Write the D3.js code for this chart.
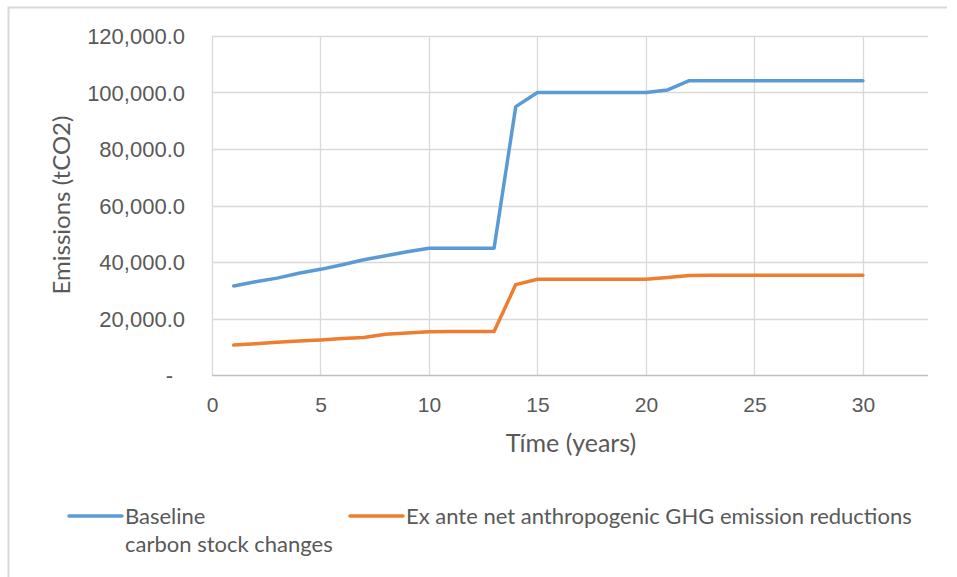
<!DOCTYPE html>
<html>
<head>
<meta charset="utf-8">
<script src="https://cdn.jsdelivr.net/npm/d3@7"></script>
<style>
  html, body { margin: 0; padding: 0; background: #fff; }
  svg { display: block; font-family: Lato, "Open Sans", sans-serif; }
</style>
</head>
<body>
<svg id="chart" width="957" height="577"></svg>
<script>
// Years of the crediting period
const years = d3.range(1, 31);

// Baseline carbon stock changes (tCO2)
const baseline = [
  31500, 33000, 34300, 36000, 37400, 39000, 40800, 42200, 43600, 44900,
  44900, 44900, 44900, 95000, 100000, 100000, 100000, 100000, 100000, 100000,
  100900, 104200, 104200, 104200, 104200, 104200, 104200, 104200, 104200, 104200
];

// Ex ante net anthropogenic GHG emission reductions (tCO2)
const reductions = [
  10600, 11100, 11600, 12000, 12400, 12900, 13300, 14400, 14900, 15300,
  15400, 15400, 15400, 32000, 33900, 33900, 33900, 33900, 33900, 33900,
  34500, 35200, 35300, 35300, 35300, 35300, 35300, 35300, 35300, 35300
];

const xTicks = [0, 5, 10, 15, 20, 25, 30];
const yTicks = [0, 20000, 40000, 60000, 80000, 100000, 120000];

const seriesNames = ["Baseline\ncarbon stock changes", "Ex ante net anthropogenic GHG emission reductions"];
const seriesColors = ["#5b9bd5", "#ed7d31"];

const svg = d3.select("#chart");
const textColor = "#595959";
const gridColor = "#d9d9d9";

const plot = { left: 212, right: 928, top: 36, bottom: 375 };

const x = d3.scaleLinear().domain([0, 33]).range([plot.left, plot.right]);
const y = d3.scaleLinear().domain([0, 120000]).range([plot.bottom, plot.top]);

// Outer chart frame (top and left edges)
svg.append("path")
  .attr("d", "M8.5,577 L8.5,7.5 L947,7.5")
  .attr("fill", "none")
  .attr("stroke", "#d9d9d9")
  .attr("stroke-width", 2);

// Horizontal gridlines
svg.append("g")
  .selectAll("line")
  .data(yTicks.filter(v => v > 0))
  .join("line")
  .attr("x1", plot.left).attr("x2", plot.right)
  .attr("y1", d => Math.round(y(d)) + 0.5).attr("y2", d => Math.round(y(d)) + 0.5)
  .attr("stroke", gridColor).attr("stroke-width", 1.3);

// Vertical gridlines
svg.append("g")
  .selectAll("line")
  .data(xTicks)
  .join("line")
  .attr("x1", d => Math.round(x(d)) + 0.5).attr("x2", d => Math.round(x(d)) + 0.5)
  .attr("y1", plot.top).attr("y2", plot.bottom)
  .attr("stroke", gridColor).attr("stroke-width", 1.3);

// Y axis
const yFmt = d => d === 0 ? "-" : d3.format(",.1f")(d);
const yAxis = svg.append("g")
  .attr("transform", `translate(${plot.left},0)`)
  .call(d3.axisLeft(y).tickValues(yTicks).tickFormat(yFmt).tickSize(0).tickPadding(27));
yAxis.select(".domain").remove();
yAxis.selectAll("text")
  .attr("fill", textColor)
  .style("font-size", "22px")
  .attr("dy", "0.35em");
yAxis.selectAll(".tick")
  .filter(d => d === 0)
  .select("text")
  .attr("dx", "-12");

// X axis
const xAxis = svg.append("g")
  .attr("transform", `translate(0,${plot.bottom})`)
  .call(d3.axisBottom(x).tickValues(xTicks).tickFormat(d3.format("d")).tickSize(0).tickPadding(22));
xAxis.select(".domain")
  .attr("d", `M${plot.left},0.5H${plot.right}`)
  .attr("stroke", "#bfbfbf").attr("stroke-width", 1.3);
xAxis.selectAll("text")
  .attr("fill", textColor)
  .style("font-size", "21px");

// Axis titles
svg.append("text")
  .attr("transform", `translate(70,205) rotate(-90)`)
  .attr("text-anchor", "middle")
  .attr("fill", textColor)
  .style("font-size", "24px")
  .text("Emissions (tCO2)");

svg.append("text")
  .attr("x", 571).attr("y", 452)
  .attr("text-anchor", "middle")
  .attr("fill", textColor)
  .style("font-size", "25px")
  .text("Tíme (years)");

// Series lines
const line = d3.line()
  .x((d, i) => x(years[i]))
  .y(d => y(d));

[baseline, reductions].forEach((vals, i) => {
  svg.append("path")
    .datum(vals)
    .attr("fill", "none")
    .attr("stroke", seriesColors[i])
    .attr("stroke-width", 3.5)
    .attr("stroke-linejoin", "round")
    .attr("stroke-linecap", "round")
    .attr("d", line);
});

// Legend
const legendItems = [
  { x: 69, name: seriesNames[0], color: seriesColors[0] },
  { x: 350, name: seriesNames[1], color: seriesColors[1] }
];
const legend = svg.append("g");
legendItems.forEach(item => {
  legend.append("line")
    .attr("x1", item.x).attr("x2", item.x + 53)
    .attr("y1", 516).attr("y2", 516)
    .attr("stroke", item.color).attr("stroke-width", 3.5)
    .attr("stroke-linecap", "round");
  const t = legend.append("text")
    .attr("x", item.x + 56).attr("y", 524)
    .attr("fill", textColor)
    .style("font-size", "22px");
  item.name.split("\n").forEach((part, k) => {
    t.append("tspan")
      .attr("x", item.x + 56)
      .attr("dy", k === 0 ? 0 : 28)
      .text(part);
  });
});
</script>
</body>
</html>
